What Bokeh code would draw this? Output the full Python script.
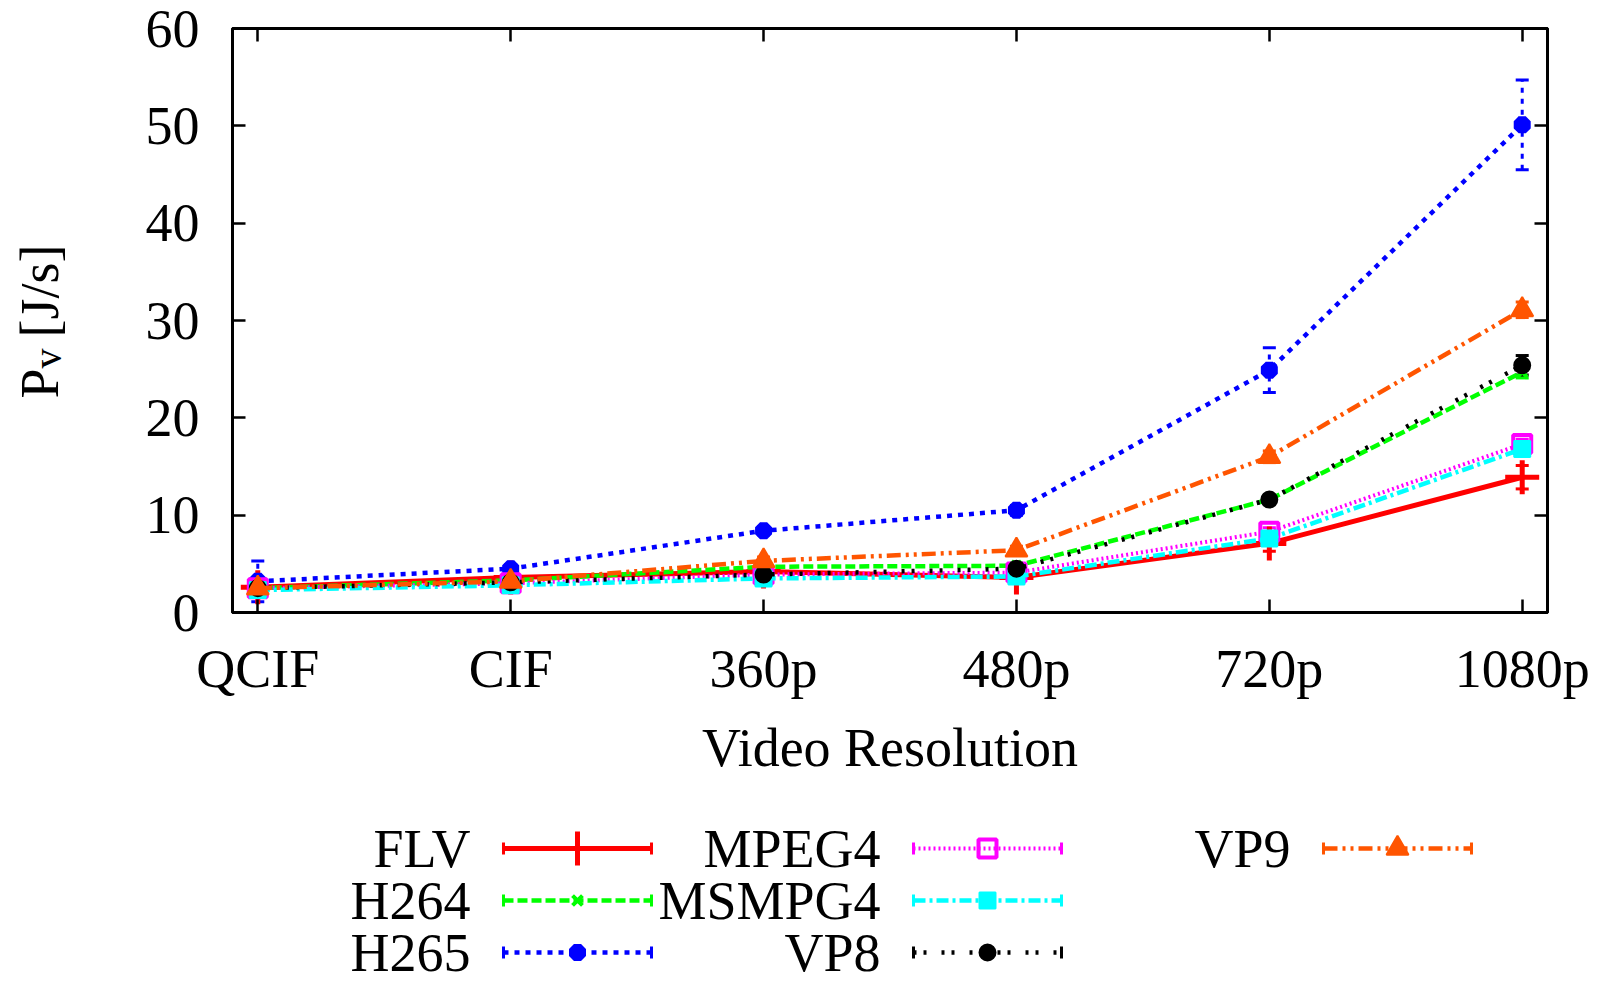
import math
from bokeh.plotting import figure
from bokeh.models import Range1d, FixedTicker, LinearAxis, Whisker, TeeHead, ColumnDataSource
from bokeh.layouts import column, row
from bokeh.embed import file_html
from bokeh.resources import INLINE
from bokeh.core.properties import value

# ---------------- data ----------------
categories = ["QCIF", "CIF", "360p", "480p", "720p", "1080p"]
series_names = ["FLV", "H264", "H265", "MPEG4", "MSMPG4", "VP8", "VP9"]

flv    = [2.6, 3.6, 4.2, 3.6, 7.1, 13.9]
h264   = [2.5, 3.3, 4.7, 4.8, 11.6, 24.7]
h265   = [3.2, 4.5, 8.4, 10.5, 24.9, 50.1]
mpeg4  = [2.5, 3.0, 3.9, 4.1, 8.3, 17.3]
msmpg4 = [2.3, 2.8, 3.5, 3.7, 7.6, 16.8]
vp8    = [2.5, 3.1, 3.9, 4.5, 11.6, 25.4]
vp9    = [2.5, 3.2, 5.3, 6.4, 16.0, 31.1]

flv_err    = [0.5, 0.3, 0.3, 0.4, 0.8, 1.2]
h264_err   = [0.2, 0.2, 0.2, 0.3, 0.4, 0.6]
h265_err   = [2.1, 0.4, 0.4, 0.5, 2.3, 4.6]
mpeg4_err  = [0.2, 0.2, 0.2, 0.3, 0.4, 0.5]
msmpg4_err = [0.2, 0.2, 0.2, 0.3, 0.4, 0.5]
vp8_err    = [0.2, 0.2, 0.2, 0.3, 0.4, 1.0]
vp9_err    = [0.3, 0.3, 0.4, 0.4, 0.6, 0.8]

y_ticks = [0, 10, 20, 30, 40, 50, 60]
y_label_parts = ["P", "v", "[J/s]"]

values = [flv, h264, h265, mpeg4, msmpg4, vp8, vp9]
errors = [flv_err, h264_err, h265_err, mpeg4_err, msmpg4_err, vp8_err, vp9_err]

# ---------------- styles ----------------
styles = [
    dict(color="#ff0000", dash="solid",        lw=5,   marker="cross",    size=34, fill=None,      mlw=5),
    dict(color="#00ff00", dash="10 4",         lw=4.5, marker="x",        size=14, fill=None,      mlw=4),
    dict(color="#0000ff", dash="5 6",          lw=4.5, marker="asterisk", size=17, fill=None,      mlw=7),
    dict(color="#ff00ff", dash="2 3",          lw=4,   marker="square",   size=18, fill=None,      mlw=4),
    dict(color="#00ffff", dash="12 4 3 4",     lw=4.5, marker="square",   size=16, fill="#00ffff", mlw=2),
    dict(color="#000000", dash="3 7 3 15",     lw=4.5, marker="circle",   size=15, fill="#000000", mlw=3),
    dict(color="#ff5500", dash="14 5 3 5 3 5", lw=4.5, marker="triangle", size=22, fill="#ff5500", mlw=2),
]

FONT = "Liberation Serif"
FS = "54px"

W, H = 1602, 981
WL = 100                      # width of the strip holding the y-axis title
H1 = 800                      # height of the main plot
H2 = H - H1                   # height of the legend strip
FRAME_TOP = 28
FRAME_H = 584
FRAME_LEFT = 232
FRAME_RIGHT_GAP = 55

x_idx = list(range(len(categories)))

# ---------------- main plot ----------------
p = figure(width=W - WL, height=H1, x_range=Range1d(-0.1, 5.1), y_range=Range1d(0, 60),
           output_backend="svg", toolbar_location=None,
           min_border_left=FRAME_LEFT - WL, min_border_right=FRAME_RIGHT_GAP,
           min_border_top=FRAME_TOP, min_border_bottom=H1 - FRAME_TOP - FRAME_H)
p.grid.visible = False
p.outline_line_color = "black"
p.outline_line_width = 3
p.background_fill_color = "white"
p.border_fill_color = "white"

xa = p.xaxis[0]
ya = p.yaxis[0]
xa.ticker = FixedTicker(ticks=x_idx)
xa.major_label_overrides = {i: c for i, c in enumerate(categories)}
ya.ticker = FixedTicker(ticks=y_ticks)
for ax in (xa, ya):
    ax.major_tick_in = 13
    ax.major_tick_out = 0
    ax.minor_tick_line_color = None
    ax.axis_line_width = 3
    ax.major_tick_line_width = 2.5
    ax.major_label_text_font = FONT
    ax.major_label_text_font_size = FS
    ax.major_label_text_color = "black"
xa.major_label_standoff = 26
ya.major_label_standoff = 33
xa.axis_label = "Video Resolution"
xa.axis_label_text_font = FONT
xa.axis_label_text_font_size = FS
xa.axis_label_text_font_style = "normal"
xa.axis_label_text_color = "black"
xa.axis_label_standoff = 16

r_ax = LinearAxis(ticker=FixedTicker(ticks=y_ticks),
                  major_label_overrides={t: "" for t in y_ticks},
                  major_tick_in=13, major_tick_out=0, minor_tick_line_color=None,
                  axis_line_width=3, major_tick_line_width=2.5, major_label_standoff=0)
p.add_layout(r_ax, "right")
t_ax = LinearAxis(ticker=FixedTicker(ticks=x_idx),
                  major_label_overrides={t: "" for t in x_idx},
                  major_tick_in=13, major_tick_out=0, minor_tick_line_color=None,
                  axis_line_width=3, major_tick_line_width=2.5, major_label_standoff=0)
p.add_layout(t_ax, "above")

for name, ys, es, st in zip(series_names, values, errors, styles):
    p.line(x_idx, ys, line_color=st["color"], line_width=st["lw"], line_dash=st["dash"])
    xs_e = [x for x, e in zip(x_idx, es) if e > 0]
    up = [y + e for y, e in zip(ys, es) if e > 0]
    lo = [y - e for y, e in zip(ys, es) if e > 0]
    src = ColumnDataSource(dict(x=xs_e, upper=up, lower=lo))
    w = Whisker(source=src, base="x", upper="upper", lower="lower",
                line_color=st["color"], line_width=3, line_dash=st["dash"],
                upper_head=TeeHead(size=13, line_color=st["color"], line_width=3),
                lower_head=TeeHead(size=13, line_color=st["color"], line_width=3))
    p.add_layout(w)
    p.scatter(x_idx, ys, marker=st["marker"], size=st["size"],
              fill_color=st["fill"], line_color=st["color"], line_width=st["mlw"])

# ---------------- y-axis title strip (canvas-pixel coordinates, y upward) ----------------
yl = figure(width=WL, height=H, x_range=Range1d(0, WL),
            y_range=Range1d(H - (FRAME_TOP + FRAME_H), H - FRAME_TOP),
            output_backend="svg", toolbar_location=None,
            min_border_left=0, min_border_right=0,
            min_border_top=FRAME_TOP, min_border_bottom=H - FRAME_TOP - FRAME_H,
            x_axis_type=None, y_axis_type=None, outline_line_color=None)
yl.grid.visible = False
yl.background_fill_color = "white"
yl.border_fill_color = "white"
# (anchor x, start y in canvas px from top, font size)
yl_pos = [(39, 398, "54px"), (47, 368, "40px"), (39, 337, "54px")]
for txt, (bx, sy, fs) in zip(y_label_parts, yl_pos):
    yl.text(x=[bx], y=[H - sy], text=[txt], angle=math.pi / 2,
            text_font=value(FONT), text_font_size=fs, text_color="black",
            text_align="left", text_baseline="alphabetic")

# ---------------- legend strip ----------------
lg = figure(width=W - WL, height=H2,
            x_range=Range1d(FRAME_LEFT, W - FRAME_RIGHT_GAP), y_range=Range1d(H2, 0),
            output_backend="svg", toolbar_location=None,
            min_border_left=FRAME_LEFT - WL, min_border_right=FRAME_RIGHT_GAP,
            min_border_top=0, min_border_bottom=0,
            x_axis_type=None, y_axis_type=None, outline_line_color=None)
lg.grid.visible = False
lg.background_fill_color = "white"
lg.border_fill_color = "white"

COL0, COL_STEP, ROW0, ROW_STEP = 470, 410, 848 - H1, 52
for i, (name, st) in enumerate(zip(series_names, styles)):
    col, rw = i // 3, i % 3
    tx = COL0 + COL_STEP * col
    ty = ROW0 + ROW_STEP * rw
    x0, x1 = tx + 33, tx + 181
    lg.text(x=[tx], y=[ty], text=[name], text_font=value(FONT), text_font_size=FS,
            text_align="right", text_baseline="middle", text_color="black")
    lg.line([x0, x1], [ty, ty], line_color=st["color"], line_width=st["lw"], line_dash=st["dash"])
    lg.segment(x0=[x0, x1], y0=[ty - 6, ty - 6], x1=[x0, x1], y1=[ty + 6, ty + 6],
               line_color=st["color"], line_width=3)
    lg.scatter([(x0 + x1) / 2], [ty], marker=st["marker"], size=st["size"],
               fill_color=st["fill"], line_color=st["color"], line_width=st["mlw"])

layout = row(yl, column(p, lg, spacing=0), spacing=0)
open("out.html", "w").write(file_html(layout, INLINE))
